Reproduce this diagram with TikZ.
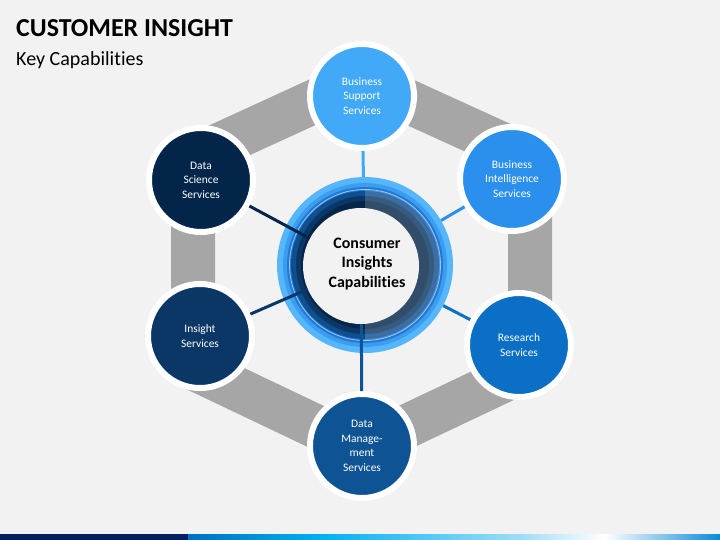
\documentclass[tikz,border=0pt]{standalone}
\usepackage{fontspec}
\setmainfont{Carlito}[Ligatures=NoCommon]
\usetikzlibrary{positioning}
\definecolor{bgray}{HTML}{F2F2F2}
\definecolor{band}{HTML}{A6A6A6}
\definecolor{cSupport}{HTML}{41A9F7}
\definecolor{cIntel}{HTML}{2B8FEE}
\definecolor{cResearch}{HTML}{0B6FC6}
\definecolor{cManage}{HTML}{0E5494}
\definecolor{cInsight}{HTML}{0A3766}
\definecolor{cScience}{HTML}{03254A}
\definecolor{ringA}{HTML}{56B6FB}
\definecolor{ringB}{HTML}{3B9DF1}
\definecolor{ringC}{HTML}{2079D2}
\definecolor{ringD}{HTML}{0F4F90}
\definecolor{ringE}{HTML}{0A3766}
\definecolor{ringF}{HTML}{062649}
\definecolor{ringLine}{HTML}{9CC6EC}
\definecolor{barNavy}{HTML}{002060}

\begin{document}
\begin{tikzpicture}[x=1bp,y=-1bp]
    \tikzstyle{service}=[circle,draw=white,line width=6bp,minimum size=104bp,inner sep=0pt,text=white,align=center,font=\fontsize{11.5}{14.5}\selectfont]
    \tikzstyle{link}=[line width=3bp]
    \tikzstyle{heading}=[anchor=base west,inner sep=0pt]

    \useasboundingbox (0,0) rectangle (720,540);
    \fill[bgray] (0,0) rectangle (720,540);

    \node[heading,font=\bfseries\fontsize{26}{31}\selectfont] (title) at (16,37) {CUSTOMER INSIGHT};
    \node[heading,font=\fontsize{20.1}{24}\selectfont] (subtitle) at (16,66) {Key Capabilities};

    % grey hexagon behind the services
    \draw[band,line width=44bp,line join=miter] (361,80) -- (530,157) -- (530,368) -- (361,448) -- (193,368) -- (193,157) -- cycle;

    % centre rings
    \node[circle,fill=ringA,minimum size=176bp,inner sep=0pt] (ring) at (365,265) {};
    \foreach \r/\c in {82/ringB,78/ringC,74/ringD,69/ringE,64/ringF}{
        \fill[\c] (ring.center) circle (\r);
        }
    \begin{scope}
        \clip (365,170) rectangle (460,360);
        \fill[white,opacity=0.18] (ring.center) circle (75);
    \end{scope}
    \draw[ringLine,line width=0.8bp] (ring.center) circle (75.5);
    \node[circle,fill=bgray,minimum size=116bp,inner sep=0pt] (core) at (361,266) {};
    \node[align=center,inner sep=0pt,font=\bfseries\fontsize{16}{19.5}\selectfont] (label) at (367,264) {Consumer\\Insights\\Capabilities};

    \node[service,fill=cSupport] (sup) at (362,96) {Business\\Support\\Services};
    \node[service,fill=cIntel] (intel) at (512,179) {Business\\Intelligence\\Services};
    \node[service,fill=cResearch] (res) at (519,345) {Research\\Services};
    \node[service,fill=cManage] (mgmt) at (362,446) {Data\\Manage-\\ment\\Services};
    \node[service,fill=cInsight] (ins) at (200,336) {Insight\\Services};
    \node[service,fill=cScience] (sci) at (201,180) {Data\\Science\\Services};

    \foreach \a/\b/\c in {sup/ring/cSupport,intel/ring/cIntel,res/ring/cResearch,mgmt/core/cManage,ins/core/cInsight,sci/core/cScience}{
        \draw[link,\c] (\a) -- (\b);
        }

    % bottom bar
    \fill[barNavy] (0,534) rectangle (188,540);
    \shade[left color={rgb,255:red,0;green,112;blue,192},right color={rgb,255:red,0;green,176;blue,240}] (188,534) rectangle (320,540);
    \shade[left color={rgb,255:red,0;green,176;blue,240},right color={rgb,255:red,159;green,220;blue,247}] (320,534) rectangle (520,540);
    \shade[left color={rgb,255:red,159;green,220;blue,247},right color=white] (520,534) rectangle (605,540);
    \shade[left color=white,right color={rgb,255:red,10;green,138;blue,216}] (605,534) rectangle (720,540);
\end{tikzpicture}
\end{document}
